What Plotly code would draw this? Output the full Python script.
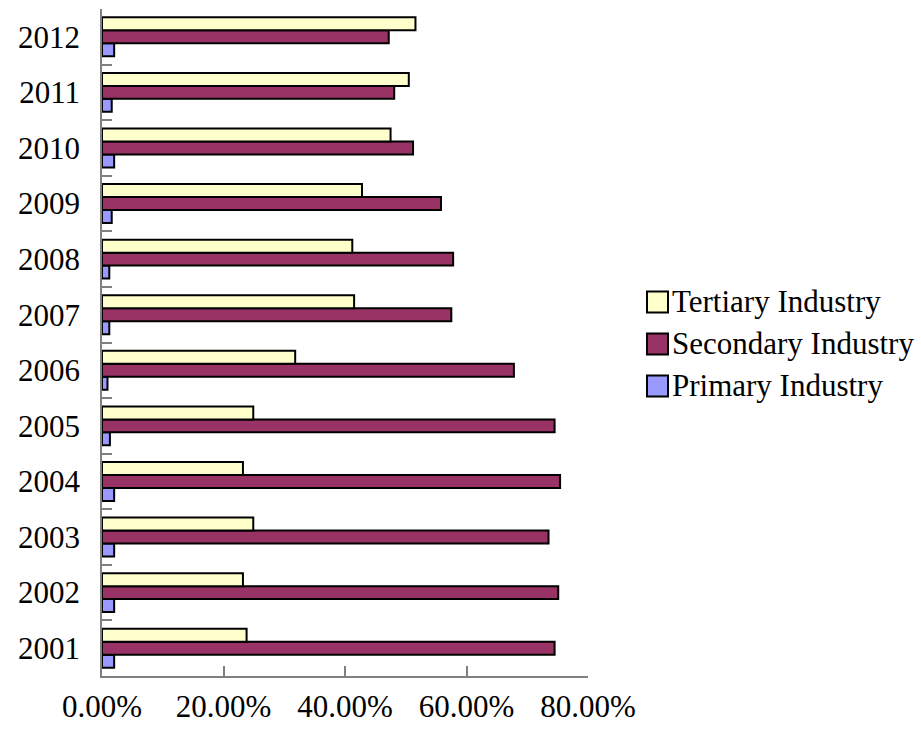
import plotly.graph_objects as go

years = ["2001", "2002", "2003", "2004", "2005", "2006",
         "2007", "2008", "2009", "2010", "2011", "2012"]

# Contribution shares by sector, in percent
primary = [2.0, 2.0, 2.0, 2.0, 1.3, 0.9, 1.2, 1.2, 1.6, 2.0, 1.6, 2.0]
secondary = [74.5, 75.1, 73.5, 75.4, 74.5, 67.8, 57.5, 57.8, 55.8, 51.2, 48.1, 47.2]
tertiary = [23.8, 23.2, 24.9, 23.2, 24.9, 31.8, 41.5, 41.2, 42.8, 47.5, 50.5, 51.6]

series_names = ["Primary Industry", "Secondary Industry", "Tertiary Industry"]
series_values = [primary, secondary, tertiary]
series_colors = ["#9999FF", "#993366", "#FFFFCC"]

x_ticks = [0, 20, 40, 60, 80]
x_tick_text = [f"{v:.2f}%" for v in x_ticks]

font_family = "'Times New Roman', 'Liberation Serif', serif"
font_size = 31

W, H = 921, 731
M_L, M_R, M_T, M_B = 102, 333, 9, 55
plot_w = W - M_L - M_R
plot_h = H - M_T - M_B


def px_x(px):
    return (px - M_L) / plot_w


def px_y(py):
    return (H - M_B - py) / plot_h


fig = go.Figure()
for name, vals, color in zip(series_names, series_values, series_colors):
    fig.add_trace(go.Bar(
        y=years, x=vals, name=name, orientation="h",
        marker=dict(color=color, line=dict(color="#000000", width=2)),
        showlegend=False,
    ))

# Legend drawn with square swatches, top entry = last series
box = 21
row_gap = 42
first_row_center = 302
box_left = 647
shapes, annotations = [], []
for i, idx in enumerate(reversed(range(len(series_names)))):
    cy = first_row_center + i * row_gap
    shapes.append(dict(
        type="rect", xref="paper", yref="paper",
        x0=px_x(box_left), x1=px_x(box_left + box),
        y0=px_y(cy + box / 2), y1=px_y(cy - box / 2),
        fillcolor=series_colors[idx], line=dict(color="#000000", width=2),
    ))
    annotations.append(dict(
        xref="paper", yref="paper", x=px_x(box_left + box + 2), y=px_y(cy - 1),
        xanchor="left", yanchor="middle", showarrow=False,
        text=series_names[idx],
        font=dict(family=font_family, size=font_size, color="#000000"),
    ))

fig.update_layout(
    width=W, height=H,
    margin=dict(l=M_L, r=M_R, t=M_T, b=M_B, autoexpand=False),
    paper_bgcolor="white", plot_bgcolor="white",
    barmode="group", bargap=0.3, bargroupgap=0,
    font=dict(family=font_family, size=font_size, color="#000000"),
    shapes=shapes, annotations=annotations,
    xaxis=dict(
        range=[0, 80], tickvals=x_ticks, ticktext=x_tick_text,
        showgrid=False, zeroline=False, automargin=False,
        showline=True, linecolor="#808080", linewidth=1.5,
        ticks="inside", ticklen=10, tickcolor="#808080", tickwidth=1.5,
        ticklabelstandoff=2,
    ),
    yaxis=dict(
        type="category", categoryorder="array", categoryarray=years,
        showgrid=False, zeroline=False, automargin=False,
        showline=True, linecolor="#808080", linewidth=1.5,
        ticks="inside", ticklen=10, tickcolor="#808080", tickwidth=1.5,
        tickson="boundaries", ticklabelstandoff=14,
    ),
)

fig.write_html("out.html")
